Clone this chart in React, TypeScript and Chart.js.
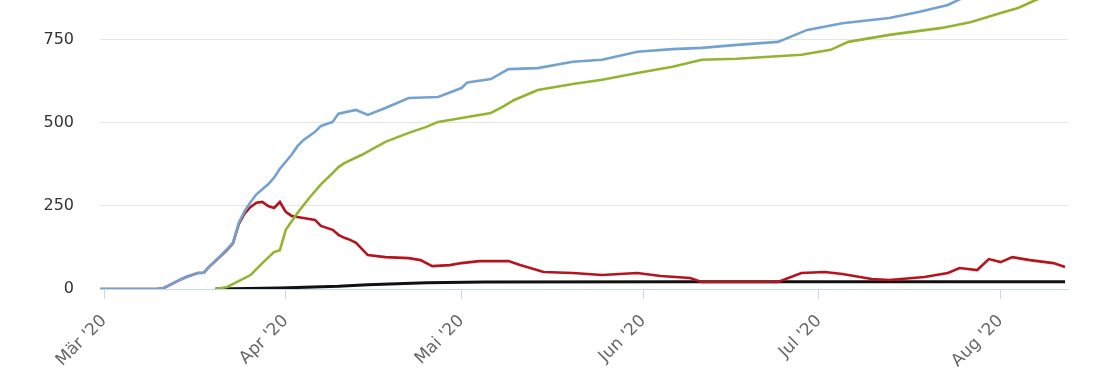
import { useEffect, useRef } from 'react';
import { Chart, registerables } from 'chart.js';

Chart.register(...registerables);

// Days counted from 1 March 2020 (day 0)
const MONTH_START_DAYS = [0, 31, 61, 92, 122, 153];
const MONTH_LABELS = ["Mär '20", "Apr '20", "Mai '20", "Jun '20", "Jul '20", "Aug '20"];
const Y_TICKS = [0, 250, 500, 750];

const CASES_DAYS = [-1, 9, 10, 11, 13, 14, 16, 17, 18, 20, 21, 22, 23, 24, 25, 26, 27, 28, 29, 30, 32, 33, 34, 36, 37, 39, 40, 43, 45, 48, 50, 52, 57, 61, 62, 66, 69, 74, 80, 85, 91, 97, 102, 108, 115, 120, 126, 134, 139, 144, 146, 150, 155, 160, 164];
const CASES_VALUES = [0, 0, 2, 10, 28, 36, 48, 49, 68, 102, 120, 140, 200, 235, 262, 285, 300, 315, 335, 362, 404, 430, 448, 473, 491, 503, 528, 539, 524, 545, 560, 575, 578, 605, 622, 632, 662, 665, 684, 690, 714, 722, 726, 735, 744, 780, 800, 816, 834, 855, 872, 890, 910, 935, 950];

const RECOVERED_DAYS = [19, 21, 25, 27, 29, 30, 31, 33, 35, 37, 39, 40, 41, 44, 48, 52, 55, 57, 59, 63, 66, 68, 70, 74, 80, 85, 91, 97, 102, 108, 119, 124, 127, 134, 143, 148, 153, 156, 159, 164];
const RECOVERED_VALUES = [0, 6, 42, 78, 111, 117, 178, 229, 274, 315, 349, 367, 379, 404, 443, 470, 488, 503, 509, 521, 530, 548, 569, 599, 617, 630, 650, 669, 690, 693, 705, 720, 744, 765, 786, 804, 831, 846, 870, 905];

const ACTIVE_DAYS = [-1, 9, 10, 11, 13, 14, 16, 17, 18, 20, 21, 22, 23, 24, 25, 26, 27, 28, 29, 30, 31, 32, 34, 36, 37, 39, 40, 41, 42, 43, 45, 48, 52, 54, 56, 59, 61, 64, 69, 71, 75, 80, 85, 91, 95, 100, 102, 108, 115, 119, 123, 126, 131, 134, 140, 144, 146, 149, 151, 153, 155, 158, 162, 164];
const ACTIVE_VALUES = [0, 0, 2, 10, 28, 36, 48, 49, 68, 101, 118, 138, 196, 228, 247, 260, 262, 250, 244, 262, 232, 220, 214, 208, 190, 178, 163, 154, 148, 139, 102, 96, 93, 87, 69, 72, 78, 84, 84, 72, 51, 48, 42, 48, 39, 33, 21, 21, 21, 48, 51, 45, 30, 27, 36, 48, 63, 57, 90, 81, 96, 87, 78, 66];

const DEATHS_DAYS = [19, 30, 40, 45, 50, 55, 65, 100, 164];
const DEATHS_VALUES = [0, 3, 8, 13, 16, 19, 21, 22, 22];

const toPoints = (days: number[], values: number[]) => days.map((d, i) => ({ x: d, y: values[i] }));

export default function App() {
  const ref = useRef<HTMLCanvasElement | null>(null);

  useEffect(() => {
    if (!ref.current) return;
    const chart = new Chart(ref.current, {
      type: 'line',
      data: {
        datasets: [
          { label: 'Fälle', data: toPoints(CASES_DAYS, CASES_VALUES), borderColor: '#74a2d0', borderWidth: 2.6, pointRadius: 0, tension: 0 },
          { label: 'Genesen', data: toPoints(RECOVERED_DAYS, RECOVERED_VALUES), borderColor: '#93b432', borderWidth: 2.6, pointRadius: 0, tension: 0 },
          { label: 'Aktiv', data: toPoints(ACTIVE_DAYS, ACTIVE_VALUES), borderColor: '#b5141e', borderWidth: 2.6, pointRadius: 0, tension: 0 },
          { label: 'Todesfälle', data: toPoints(DEATHS_DAYS, DEATHS_VALUES), borderColor: '#111111', borderWidth: 3, pointRadius: 0, tension: 0 },
        ],
      },
      options: {
        responsive: false,
        animation: false,
        layout: { padding: { left: 0, right: 42, top: 0, bottom: 0 } },
        plugins: { legend: { display: false }, tooltip: { enabled: false } },
        scales: {
          x: {
            type: 'linear',
            min: -0.7,
            max: 164.5,
            afterBuildTicks: (scale: any) => {
              scale.ticks = MONTH_START_DAYS.map((v) => ({ value: v }));
            },
            afterFit: (scale: any) => {
              scale.height = 81;
              scale.paddingLeft = 0;
              scale.paddingRight = 0;
            },
            ticks: {
              autoSkip: false,
              minRotation: 45,
              maxRotation: 45,
              padding: 12,
              color: '#666666',
              font: { family: 'DejaVu Sans', size: 17 },
              callback: (value: any) => {
                const i = MONTH_START_DAYS.indexOf(Number(value));
                return i >= 0 ? MONTH_LABELS[i] : '';
              },
            },
            grid: { drawOnChartArea: false, drawTicks: true, tickLength: 10, color: '#ccd6eb' },
            border: { display: true, color: '#ccd6eb' },
          },
          y: {
            min: 0,
            max: 870,
            afterBuildTicks: (scale: any) => {
              scale.ticks = Y_TICKS.map((v) => ({ value: v }));
            },
            afterFit: (scale: any) => {
              scale.width = 100;
              scale.paddingTop = 0;
              scale.paddingBottom = 0;
            },
            ticks: {
              padding: 26,
              color: '#333333',
              font: { family: 'DejaVu Sans', size: 16 },
            },
            grid: { color: '#e6e6e6', drawTicks: false },
            border: { display: false },
          },
        },
      },
    });
    return () => chart.destroy();
  }, []);

  return (
    <div style={{ position: 'absolute', left: 0, top: 0, width: 1110, height: 370, background: '#fff' }}>
      <canvas ref={ref} width={1110} height={370} style={{ display: 'block' }} />
    </div>
  );
}
